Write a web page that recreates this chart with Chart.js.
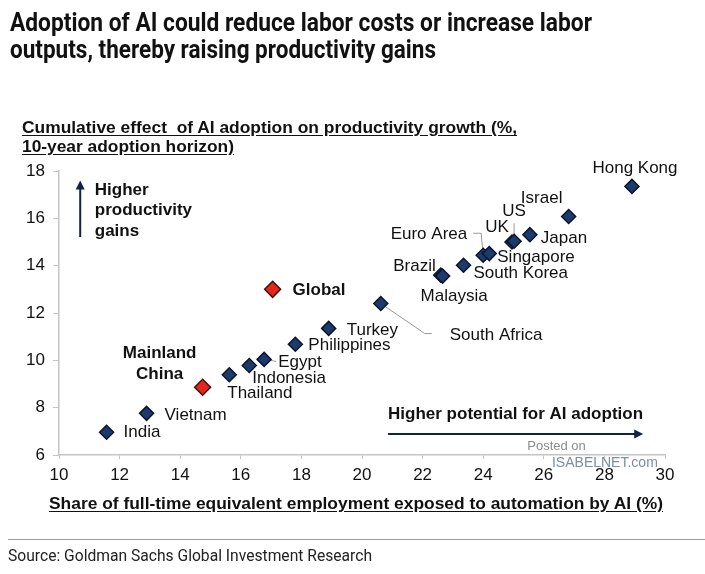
<!DOCTYPE html>
<html>
<head>
<meta charset="utf-8">
<script src="https://cdn.jsdelivr.net/npm/chart.js@4.4.0/dist/chart.umd.min.js"></script>
<style>
  body { margin: 0; background: #fff; }
  #page { position: relative; width: 705px; height: 574px; overflow: hidden; font-family: "Liberation Sans", Arial, sans-serif; color: #111; }
  #page canvas { position: absolute; left: 0; top: 0; }
  .txt { position: absolute; white-space: nowrap; transform-origin: 0 50%; line-height: 1; }
  .title { font: bold 25px Roboto, "Liberation Sans", sans-serif; color: #111; }
  .axisTitle { font: bold 16px "Liberation Sans", Arial, sans-serif; text-decoration: underline; text-underline-offset: 2px; }
  .source { font: 17px Roboto, "Liberation Sans", sans-serif; color: #222; }
  #rule { position: absolute; left: 8px; top: 539px; width: 697px; height: 1px; background: #999; }
</style>
</head>
<body>
<div id="page">
  <canvas id="chart" width="705" height="574"></canvas>
  <div class="txt title" data-w="582" style="left:10px; top:8px;">Adoption of AI could reduce labor costs or increase labor</div>
  <div class="txt title" data-w="426" style="left:10px; top:35px;">outputs, thereby raising productivity gains</div>
  <div class="txt axisTitle" data-w="495" style="left:22px; top:119px;">Cumulative effect&nbsp; of AI adoption on productivity growth (%,</div>
  <div class="txt axisTitle" data-w="212" style="left:22px; top:138px;">10-year adoption horizon)</div>
  <div class="txt axisTitle" data-w="614" style="left:49px; top:495px;">Share of full-time equivalent employment exposed to automation by AI (%)</div>
  <div id="rule"></div>
  <div class="txt source" data-w="364" style="left:8px; top:545px;">Source: Goldman Sachs Global Investment Research</div>
</div>
<script>
// Data
const countries = ['India', 'Vietnam', 'Mainland China', 'Thailand', 'Indonesia', 'Egypt', 'Philippines', 'Turkey', 'Global',
  'South Africa', 'Brazil', 'Malaysia', 'South Korea', 'Euro Area', 'Singapore', 'UK', 'US', 'Japan', 'Israel', 'Hong Kong'];
const exposure = [11.57, 12.89, 14.74, 15.62, 16.28, 16.77, 17.80, 18.90, 17.05,
  20.62, 22.60, 22.66, 23.35, 24.00, 24.20, 24.95, 25.02, 25.54, 26.82, 28.91];
const productivity = [6.96, 7.76, 8.86, 9.39, 9.78, 10.04, 10.68, 11.35, 13.00,
  12.40, 13.60, 13.56, 14.02, 14.44, 14.51, 15.00, 15.03, 15.31, 16.08, 17.35];
const highlighted = ['Mainland China', 'Global'];
const xTicks = [10, 12, 14, 16, 18, 20, 22, 24, 26, 28, 30];
const yTicks = [6, 8, 10, 12, 14, 16, 18];

// label placement (pixel offsets from each point)
const labelLayout = {
  'India': { dx: 17, dy: 0 },
  'Vietnam': { dx: 18, dy: 2 },
  'Mainland China': { dx: -43, dy: -34, align: 'center', bold: true, lines: ['Mainland', 'China'] },
  'Thailand': { dx: -2, dy: 19 },
  'Indonesia': { dx: 3, dy: 13 },
  'Egypt': { dx: 14, dy: 3 },
  'Philippines': { dx: 13, dy: 1 },
  'Turkey': { dx: 18, dy: 2 },
  'Global': { dx: 20, dy: 1, bold: true },
  'South Africa': { dx: 69, dy: 32 },
  'Brazil': { dx: -5, dy: -9, align: 'right' },
  'Malaysia': { dx: -22, dy: 20 },
  'South Korea': { dx: 10, dy: 8 },
  'Euro Area': { dx: -16, dy: -21, align: 'right' },
  'Singapore': { dx: 8, dy: 4 },
  'UK': { dx: -15, dy: -15, align: 'center' },
  'US': { dx: 0, dy: -30, align: 'center' },
  'Japan': { dx: 11, dy: 4 },
  'Israel': { dx: -27, dy: -18, align: 'center' },
  'Hong Kong': { dx: 3, dy: -18, align: 'center' }
};
const leaders = {
  'Egypt': [[0, 0], [12, 2]],
  'South Africa': [[0, 0], [44, 30], [51, 30]],
  'Euro Area': [[0, 0], [-2, -22], [-10, -22]],
  'US': [[0, -3], [0, -18]]
};

const NAVY = '#1d3a6b';
const NAVY_EDGE = '#0a1630';
const RED = '#e6261c';
const ARROW = '#0e2346';

function pointsFor(keep) {
  const pts = [];
  countries.forEach((c, i) => {
    if (keep(c)) pts.push({ x: exposure[i], y: productivity[i], name: c });
  });
  return pts;
}

function drawArrow(ctx, x1, y1, x2, y2) {
  const ang = Math.atan2(y2 - y1, x2 - x1);
  const head = 9;
  ctx.save();
  ctx.strokeStyle = ARROW;
  ctx.fillStyle = ARROW;
  ctx.lineWidth = 2;
  ctx.beginPath();
  ctx.moveTo(x1, y1);
  ctx.lineTo(x2 - Math.cos(ang) * head * 0.8, y2 - Math.sin(ang) * head * 0.8);
  ctx.stroke();
  ctx.beginPath();
  ctx.moveTo(x2, y2);
  ctx.lineTo(x2 - Math.cos(ang) * head + Math.sin(ang) * 4.5, y2 - Math.sin(ang) * head - Math.cos(ang) * 4.5);
  ctx.lineTo(x2 - Math.cos(ang) * head - Math.sin(ang) * 4.5, y2 - Math.sin(ang) * head + Math.cos(ang) * 4.5);
  ctx.closePath();
  ctx.fill();
  ctx.restore();
}

const annotations = {
  id: 'annotations',
  beforeDatasetsDraw(chart) {
    const { ctx } = chart;
    const xs = chart.scales.x, ys = chart.scales.y;
    ctx.save();
    ctx.strokeStyle = '#9a9a9a';
    ctx.lineWidth = 1;
    Object.keys(leaders).forEach(name => {
      const i = countries.indexOf(name);
      const px = xs.getPixelForValue(exposure[i]);
      const py = ys.getPixelForValue(productivity[i]);
      ctx.beginPath();
      leaders[name].forEach(([dx, dy], k) => {
        if (k === 0) ctx.moveTo(px + dx, py + dy);
        else ctx.lineTo(px + dx, py + dy);
      });
      ctx.stroke();
    });
    ctx.restore();
  },
  afterDatasetsDraw(chart) {
    const { ctx } = chart;
    const xs = chart.scales.x, ys = chart.scales.y;
    ctx.save();
    ctx.textBaseline = 'middle';
    ctx.fillStyle = '#111';
    countries.forEach((name, i) => {
      const lay = labelLayout[name];
      if (!lay) return;
      const px = xs.getPixelForValue(exposure[i]);
      const py = ys.getPixelForValue(productivity[i]);
      ctx.font = (lay.bold ? 'bold ' : '') + '17px "Liberation Sans", Arial, sans-serif';
      ctx.textAlign = lay.align || 'left';
      const lines = lay.lines || [name];
      lines.forEach((t, k) => ctx.fillText(t, px + lay.dx, py + lay.dy + k * 21));
    });

    // direction hints
    ctx.font = 'bold 17px "Liberation Sans", Arial, sans-serif';
    ctx.textAlign = 'left';
    const hx = xs.getPixelForValue(10.7);
    drawArrow(ctx, hx, ys.getPixelForValue(15.21), hx, ys.getPixelForValue(17.6));
    const tx = xs.getPixelForValue(11.18);
    ['Higher', 'productivity', 'gains'].forEach((t, k) => ctx.fillText(t, tx, ys.getPixelForValue(17.2) + k * 20.5));

    const ay = ys.getPixelForValue(6.89);
    drawArrow(ctx, xs.getPixelForValue(20.86), ay, xs.getPixelForValue(29.28), ay);
    ctx.fillText('Higher potential for AI adoption', xs.getPixelForValue(20.86), ys.getPixelForValue(7.7));

    // watermark
    ctx.fillStyle = '#8c8c8c';
    ctx.font = '13px "Liberation Sans", Arial, sans-serif';
    ctx.textAlign = 'center';
    ctx.fillText('Posted on', xs.getPixelForValue(26.42), ys.getPixelForValue(6.38));
    ctx.fillStyle = '#7a8fa0';
    ctx.font = '14px "Liberation Sans", Arial, sans-serif';
    ctx.textAlign = 'left';
    ctx.fillText('ISABELNET.com', xs.getPixelForValue(26.27), ys.getPixelForValue(5.66));
    ctx.restore();
  }
};

const tickFont = { family: '"Liberation Sans", Arial, sans-serif', size: 17 };

new Chart(document.getElementById('chart'), {
  type: 'scatter',
  data: {
    datasets: [
      {
        label: 'Economies',
        data: pointsFor(c => !highlighted.includes(c)),
        pointStyle: 'rectRot',
        pointRadius: 7,
        backgroundColor: NAVY,
        borderColor: NAVY_EDGE,
        borderWidth: 1.5
      },
      {
        label: 'Highlighted',
        data: pointsFor(c => highlighted.includes(c)),
        pointStyle: 'rectRot',
        pointRadius: 8,
        backgroundColor: RED,
        borderColor: '#3a1410',
        borderWidth: 1.5
      }
    ]
  },
  options: {
    responsive: false,
    animation: false,
    events: [],
    layout: { padding: { left: 0, right: 40, top: 171, bottom: 89 } },
    plugins: { legend: { display: false }, tooltip: { enabled: false } },
    scales: {
      x: {
        type: 'linear',
        min: xTicks[0],
        max: xTicks[xTicks.length - 1],
        afterBuildTicks: s => { s.ticks = xTicks.map(v => ({ value: v })); },
        afterFit: s => { s.height = 30; },
        border: { color: '#c4c4c4', width: 1.5 },
        grid: { drawOnChartArea: false, drawTicks: true, tickLength: 4, color: '#c4c4c4' },
        ticks: { font: tickFont, color: '#111', padding: 6, maxRotation: 0 }
      },
      y: {
        type: 'linear',
        min: yTicks[0],
        max: yTicks[yTicks.length - 1],
        afterBuildTicks: s => { s.ticks = yTicks.map(v => ({ value: v })); },
        afterFit: s => { s.width = 59; },
        border: { color: '#c4c4c4', width: 1.5 },
        grid: { drawOnChartArea: false, drawTicks: true, tickLength: 6, color: '#c4c4c4' },
        ticks: { font: tickFont, color: '#111', padding: 8 }
      }
    }
  },
  plugins: [annotations]
});

// squeeze the condensed texts to the reference widths
document.querySelectorAll('.txt[data-w]').forEach(el => {
  const w = el.getBoundingClientRect().width;
  const target = Number(el.dataset.w);
  if (w > 0) el.style.transform = `scaleX(${target / w})`;
});
</script>
</body>
</html>
